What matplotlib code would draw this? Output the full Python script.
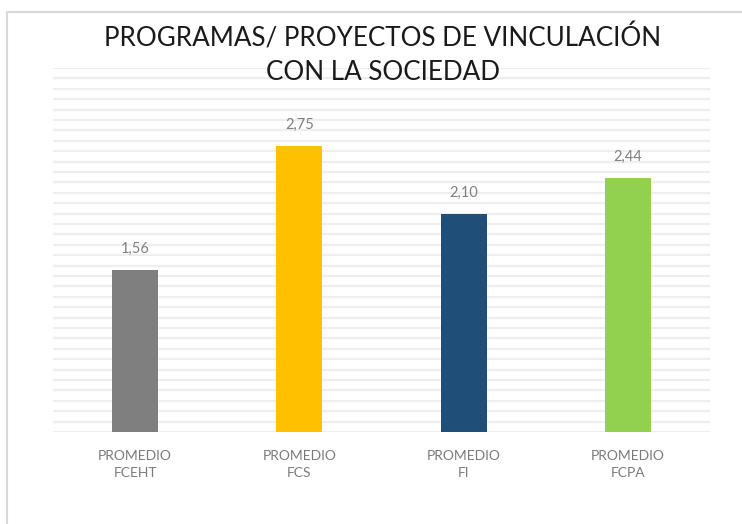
import numpy as np
import matplotlib.pyplot as plt
from matplotlib.patches import Rectangle

categorias = ["PROMEDIO\nFCEHT", "PROMEDIO\nFCS", "PROMEDIO\nFI", "PROMEDIO\nFCPA"]
valores = [1.56, 2.75, 2.10, 2.44]
etiquetas = ["1,56", "2,75", "2,10", "2,44"]
colores = ["#7F7F7F", "#FFC000", "#1F4E79", "#92D050"]

fuente = ["Lato", "DejaVu Sans"]

fig = plt.figure(figsize=(7.42, 5.24), dpi=100)

# marco del grafico (cortado por la captura)
fig.patches.append(Rectangle((7 / 742, -0.1), 1.2, 1 - 12 / 524 + 0.1,
                             transform=fig.transFigure, fill=False,
                             edgecolor="#D9D9D9", lw=1.5))

ax = fig.add_axes([53 / 742, 1 - 432 / 524, 657 / 742, (432 - 68) / 524])
x = np.arange(len(categorias))
ax.bar(x, valores, width=0.28, color=colores, zorder=3)

ax.set_xlim(-0.5, len(categorias) - 0.5)
ax.set_ylim(0, 3.5)
ax.set_yticks(np.arange(0, 3.51, 0.1))
ax.yaxis.grid(True, color="#EEEEEE", lw=1.6, zorder=0)
ax.tick_params(axis="y", length=0, labelleft=False)
for s in ax.spines.values():
    s.set_visible(False)

ax.set_xticks(x)
ax.set_xticklabels(categorias, family=fuente, fontsize=10, color="#7A7A7A",
                   linespacing=1.45)
ax.tick_params(axis="x", length=0, pad=13)

for xi, v, t in zip(x, valores, etiquetas):
    ax.annotate(t, (xi, v), xytext=(0, 21), textcoords="offset pixels",
                ha="center", va="center", family=fuente, fontsize=10.5,
                color="#7F7F7F")

fig.text(383 / 742, 1 - 55 / 524,
         "PROGRAMAS/ PROYECTOS DE VINCULACIÓN\nCON LA SOCIEDAD",
         ha="center", va="center", family=fuente, fontsize=18.7,
         color="#1A1A1A", linespacing=1.4)

fig.savefig("out.png", dpi=100)
